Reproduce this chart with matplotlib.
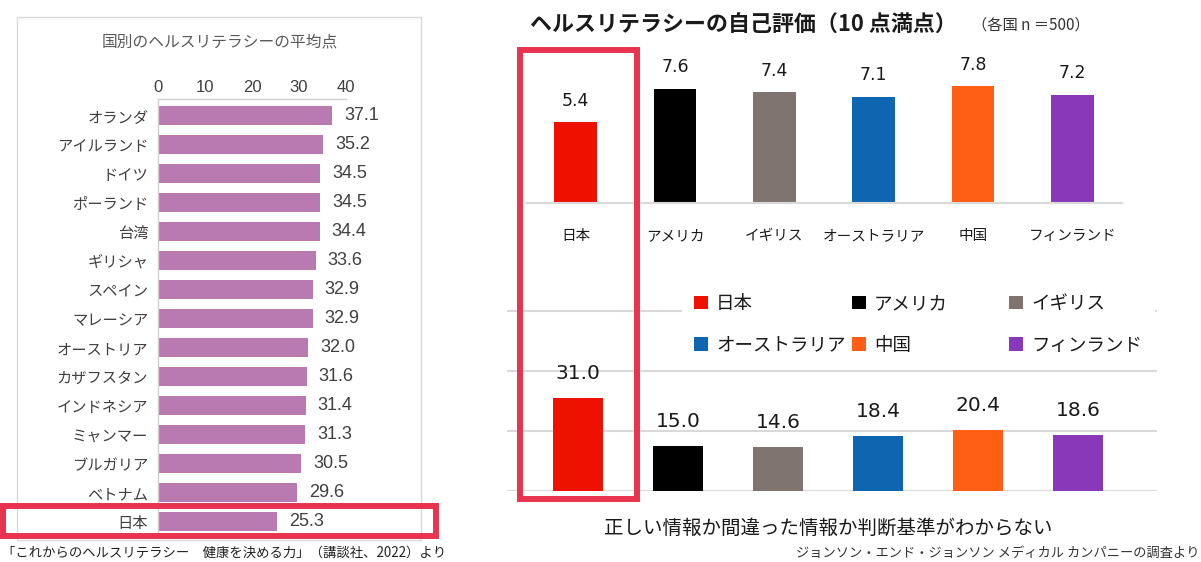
import matplotlib
matplotlib.use("Agg")
import matplotlib.pyplot as plt
from matplotlib.patches import Rectangle

plt.rcParams['font.family'] = ['Noto Sans CJK JP', 'DejaVu Sans']

# ---------------- data ----------------
left_countries = ['オランダ', 'アイルランド', 'ドイツ', 'ポーランド', '台湾', 'ギリシャ',
                  'スペイン', 'マレーシア', 'オーストリア', 'カザフスタン', 'インドネシア',
                  'ミャンマー', 'ブルガリア', 'ベトナム', '日本']
left_scores = [37.1, 35.2, 34.5, 34.5, 34.4, 33.6, 32.9, 32.9, 32.0, 31.6, 31.4, 31.3, 30.5, 29.6, 25.3]
left_ticks = [0, 10, 20, 30, 40]

right_countries = ['日本', 'アメリカ', 'イギリス', 'オーストラリア', '中国', 'フィンランド']
self_eval = [5.4, 7.6, 7.4, 7.1, 7.8, 7.2]
unsure = [31.0, 15.0, 14.6, 18.4, 20.4, 18.6]
right_colors = ['#ee1100', '#000000', '#7f746f', '#0e66b0', '#ff5e14', '#8838b8']
lower_grid = [0, 20, 40, 60]

left_title = '国別のヘルスリテラシーの平均点'
right_title = 'ヘルスリテラシーの自己評価（10 点満点）'
right_sub = '（各国 n ＝500）'
lower_label = '正しい情報か間違った情報か判断基準がわからない'
left_source = '「これからのヘルスリテラシー　健康を決める力」（講談社、2022）より'
right_source = 'ジョンソン・エンド・ジョンソン メディカル カンパニーの調査より'

# ---------------- figure ----------------
W, H = 1201, 562
fig = plt.figure(figsize=(W / 100, H / 100), dpi=100)


def fx(px):
    return px / W


def fy(py):
    return 1 - py / H


def axes_px(x0, y0, x1, y1):
    return fig.add_axes([x0 / W, 1 - y1 / H, (x1 - x0) / W, (y1 - y0) / H])


def rect_px(x0, y0, x1, y1, **kw):
    r = Rectangle((fx(x0), fy(y1)), (x1 - x0) / W, (y1 - y0) / H,
                  transform=fig.transFigure, **kw)
    fig.add_artist(r)
    return r


txt_left = '#404040'
txt_right = '#1a1a1a'

# left panel frame
rect_px(17, 17, 421, 540, fill=False, edgecolor='#d9d9d9', linewidth=1)

# ---------------- left chart ----------------
axL = axes_px(158, 99, 346, 537)
axL.set_facecolor('none')
yl = list(range(len(left_countries)))
barsL = axL.barh(yl, left_scores, height=0.655, color='#b87ab0')
axL.set_ylim(len(left_countries) - 1 + 0.53, -0.57)
axL.set_xlim(0, 40)
axL.xaxis.tick_top()
axL.set_xticks(left_ticks)
axL.set_xticklabels([str(t) for t in left_ticks], fontfamily='Liberation Sans',
                    fontsize=12, color=txt_left)
axL.tick_params(axis='x', length=0, pad=3)
axL.set_yticks(yl)
axL.set_yticklabels(left_countries, fontsize=11, color=txt_left)
axL.tick_params(axis='y', length=0, pad=7)
for s in ['right', 'bottom']:
    axL.spines[s].set_visible(False)
for s in ['top', 'left']:
    axL.spines[s].set_color('#d0d0d0')
    axL.spines[s].set_linewidth(1)
axL.bar_label(barsL, labels=[f'{v:.1f}' for v in left_scores], padding=8.5,
              fontfamily='Liberation Sans', fontsize=13, color=txt_left)

fig.text(fx(220), fy(42), left_title, ha='center', va='center', fontsize=11.3, color='#595959')
rect_px(3, 506, 436, 536, fill=False, edgecolor='#e8344e', linewidth=4.3)
fig.text(fx(2), fy(553), left_source, ha='left', va='center', fontsize=9.6, color='#222222')

# ---------------- upper right chart ----------------
xr = list(range(len(right_countries)))
axU = axes_px(526, 53, 1122, 203)
axU.set_facecolor('none')
barsU = axU.bar(xr, self_eval, width=0.43, color=right_colors)
axU.set_xlim(-0.5, 5.5)
axU.set_ylim(0, 10)
axU.set_yticks([])
axU.set_xticks(xr)
axU.set_xticklabels(right_countries, fontsize=10.5, color=txt_right)
axU.tick_params(axis='x', length=0, pad=18.5)
for s in ['top', 'left', 'right']:
    axU.spines[s].set_visible(False)
axU.spines['bottom'].set_color('#d9d9d9')
axU.spines['bottom'].set_linewidth(1.5)
axU.bar_label(barsU, labels=[f'{v:.1f}' for v in self_eval], padding=9,
              fontfamily='DejaVu Sans', fontsize=12.5, color=txt_right)

fig.text(fx(530), fy(25), right_title, ha='left', va='center', fontsize=15.8,
         fontweight='bold', color=txt_right)
fig.text(fx(972), fy(25), right_sub, ha='left', va='center', fontsize=11, color='#333333')

# ---------------- lower right chart ----------------
axB = axes_px(507, 251, 1157, 491)
axB.set_facecolor('none')
barsB = axB.bar(xr, unsure, width=0.5, color=right_colors, zorder=2)
axB.set_xlim(-0.71, 5.79)
axB.set_ylim(0, 80)
axB.set_yticks(lower_grid)
axB.set_yticklabels([])
axB.set_xticks([])
axB.tick_params(axis='y', length=0)
axB.set_axisbelow(True)
axB.yaxis.grid(True, color='#d9d9d9', linewidth=1.5)
for s in axB.spines.values():
    s.set_visible(False)
axB.bar_label(barsB, labels=[f'{v:.1f}' for v in unsure], padding=11,
              fontfamily='DejaVu Sans', fontsize=14.5, color=txt_right)

# white backing behind legend
bg = Rectangle((fx(682), fy(365)), (1155 - 682) / W, (365 - 278) / H,
               transform=fig.transFigure, facecolor='white', edgecolor='none', zorder=1)
axB.add_patch(bg)

col_x = [694, 852, 1009]
patches = list(barsB.patches)
legs = []
for k in range(3):
    leg = axB.legend([patches[k], patches[k + 3]], [right_countries[k], right_countries[k + 3]],
                     loc='upper left', bbox_to_anchor=(fx(col_x[k]), fy(295)),
                     bbox_transform=fig.transFigure, frameon=False, borderpad=0,
                     borderaxespad=0, handlelength=0.75, handleheight=0.75,
                     handletextpad=0.45, labelspacing=1.28,
                     prop={'size': 13.3, 'family': ['Noto Sans CJK JP', 'DejaVu Sans']},
                     labelcolor=txt_right)
    legs.append(leg)
for leg in legs[:-1]:
    axB.add_artist(leg)

fig.text(fx(828), fy(528), lower_label, ha='center', va='center', fontsize=14, color=txt_right)
rect_px(520, 50, 637, 499, fill=False, edgecolor='#e8344e', linewidth=4.3)
fig.text(fx(1199), fy(553), right_source, ha='right', va='center', fontsize=9.5, color='#333333')

fig.savefig('out.png', dpi=100)
